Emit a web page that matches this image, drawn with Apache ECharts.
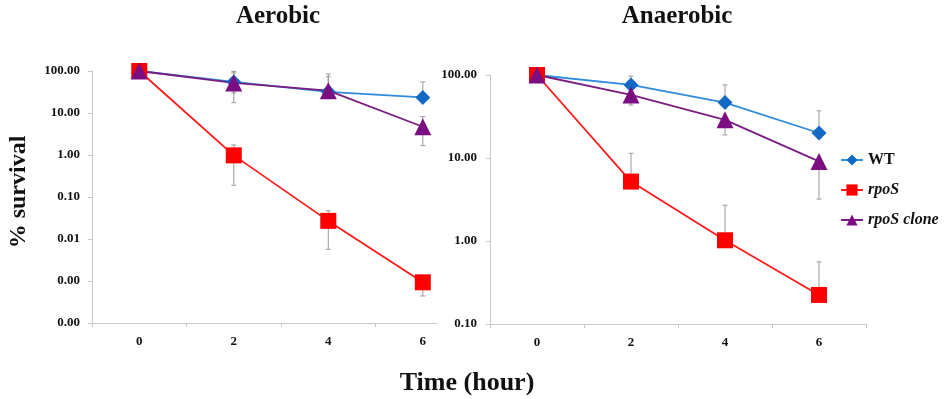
<!DOCTYPE html>
<html>
<head>
<meta charset="utf-8">
<script src="https://cdn.jsdelivr.net/npm/echarts@6/dist/echarts.min.js"></script>
<style>html,body{margin:0;padding:0;background:#fff}#c{width:945px;height:399px}</style>
</head>
<body>
<div id="c"></div>
<script>
// ---- data ----
const hours = [0, 2, 4, 6];
const xTickLabels = [0, 2, 4, 6];
const seriesNames = ['WT', 'rpoS', 'rpoS clone'];

// Aerobic (% survival)
const aerWT = [100, 55, 32, 23.5];
const aerWTLow = [100, 30, 27, 23.5];
const aerWTHigh = [100, 98, 85, 55];
const aerRpoS = [100, 0.98, 0.027, 0.00093];
const aerRpoSLow = [100, 0.19, 0.0057, 0.00044];
const aerRpoSHigh = [100, 1.73, 0.047, 0.0013];
const aerClone = [100, 52, 34, 4.7];
const aerCloneLow = [100, 17.6, 25, 1.67];
const aerCloneHigh = [100, 90, 73, 8.2];

// Anaerobic (% survival)
const anaWT = [100, 76, 46.5, 20];
const anaWTLow = [100, 76, 46.5, 20];
const anaWTHigh = [100, 97, 76, 37];
const anaRpoS = [100, 5.2, 1.02, 0.224];
const anaRpoSLow = [100, 5.2, 1.02, 0.224];
const anaRpoSHigh = [100, 11.4, 2.7, 0.56];
const anaClone = [100, 57.5, 28.8, 9.1];
const anaCloneLow = [100, 43.5, 19, 3.2];
const anaCloneHigh = [100, 57.5, 28.8, 9.1];

// ---- chart ----
const SERIF = 'Liberation Serif, Times New Roman, serif';
const colors = {
  WT: {line: '#2F8BDB', item: '#1469C4', symbol: 'diamond', size: 15},
  rpoS: {line: '#FF1A1A', item: '#FF0000', symbol: 'rect', size: 16},
  'rpoS clone': {line: '#7A1C80', item: '#7B0F82', symbol: 'triangle', size: 17}
};

function pairs(vals) { return hours.map((h, i) => [h, vals[i]]); }
function errData(lo, hi) { return hours.map((h, i) => [h, lo[i], hi[i]]); }

function errRender(params, api) {
  const x = api.value(0), lo = api.value(1), hi = api.value(2);
  const a = api.coord([x, lo]), b = api.coord([x, hi]);
  const w = 2.5;
  const st = {stroke: '#9a9a9a', lineWidth: 1};
  return {type: 'group', children: [
    {type: 'line', shape: {x1: a[0], y1: a[1], x2: b[0], y2: b[1]}, style: st},
    {type: 'line', shape: {x1: a[0] - w, y1: a[1], x2: a[0] + w, y2: a[1]}, style: st},
    {type: 'line', shape: {x1: b[0] - w, y1: b[1], x2: b[0] + w, y2: b[1]}, style: st}
  ]};
}

function lineSeries(name, vals, idx) {
  const c = colors[name];
  return {
    name: name, type: 'line', xAxisIndex: idx, yAxisIndex: idx,
    data: pairs(vals), symbol: c.symbol, symbolSize: c.size,
    lineStyle: {color: c.line, width: 1.8},
    itemStyle: {color: c.item},
    z: 3, animation: false
  };
}
function errSeries(lo, hi, idx) {
  return {
    type: 'custom', xAxisIndex: idx, yAxisIndex: idx,
    data: errData(lo, hi), renderItem: errRender,
    encode: {x: 0, y: [1, 2]}, z: 2, silent: true, animation: false
  };
}

function xAxis(idx, max, ticks) {
  return {
    type: 'value', gridIndex: idx, min: -1, max: max,
    axisLine: {onZero: false, lineStyle: {color: '#c8c8c8', width: 1}},
    axisTick: {show: true, length: 4, lineStyle: {color: '#c8c8c8'}, customValues: ticks},
    axisLabel: {customValues: xTickLabels, margin: 12, color: '#111', fontFamily: SERIF, fontWeight: 'bold', fontSize: 13},
    splitLine: {show: false}
  };
}
function yAxis(idx, min, margin) {
  return {
    type: 'log', logBase: 10, gridIndex: idx, min: min, max: 100,
    axisLine: {show: true, onZero: false, lineStyle: {color: '#c8c8c8', width: 1}},
    axisTick: {show: true, length: 4, lineStyle: {color: '#c8c8c8'}},
    axisLabel: {margin: margin, color: '#111', fontFamily: SERIF, fontWeight: 'bold', fontSize: 13,
      formatter: v => Number(v).toFixed(2)},
    splitLine: {show: false}
  };
}

const chart = echarts.init(document.getElementById('c'), null, {renderer: 'canvas'});
chart.setOption({
  animation: false,
  backgroundColor: '#fff',
  grid: [
    {left: 92, top: 71, width: 345, height: 252},
    {left: 490, top: 75, width: 376, height: 249}
  ],
  xAxis: [xAxis(0, 6.3, [-1, 1, 3, 5]), xAxis(1, 7, [-1, 1, 3, 5, 7])],
  yAxis: [yAxis(0, 0.0001, 12), yAxis(1, 0.1, 13)],
  legend: {
    orient: 'vertical', left: 835, top: 147, itemWidth: 22, itemHeight: 14, itemGap: 14,
    data: seriesNames,
    formatter: n => n === 'WT' ? '{b|' + n + '}' : '{i|' + n + '}',
    textStyle: {fontFamily: SERIF, rich: {
      b: {fontFamily: SERIF, fontWeight: 'bold', fontSize: 16, color: '#111'},
      i: {fontFamily: SERIF, fontWeight: 'bold', fontStyle: 'italic', fontSize: 16, color: '#111'}
    }}
  },
  graphic: [
    {type: 'text', x: 278, y: 17, style: {text: 'Aerobic', font: 'bold 25px ' + SERIF, fill: '#111', textAlign: 'center', textVerticalAlign: 'middle', align: 'center', verticalAlign: 'middle'}},
    {type: 'text', x: 677, y: 17, style: {text: 'Anaerobic', font: 'bold 25px ' + SERIF, fill: '#111', textAlign: 'center', textVerticalAlign: 'middle', align: 'center', verticalAlign: 'middle'}},
    {type: 'text', x: 19, y: 192, rotation: Math.PI / 2, style: {text: '% survival', font: 'bold 24px ' + SERIF, fill: '#111', textAlign: 'center', textVerticalAlign: 'middle', align: 'center', verticalAlign: 'middle'}},
    {type: 'text', x: 467, y: 383, style: {text: 'Time (hour)', font: 'bold 26px ' + SERIF, fill: '#111', textAlign: 'center', textVerticalAlign: 'middle', align: 'center', verticalAlign: 'middle'}}
  ],
  series: [
    errSeries(aerWTLow, aerWTHigh, 0),
    errSeries(aerRpoSLow, aerRpoSHigh, 0),
    errSeries(aerCloneLow, aerCloneHigh, 0),
    errSeries(anaWTLow, anaWTHigh, 1),
    errSeries(anaRpoSLow, anaRpoSHigh, 1),
    errSeries(anaCloneLow, anaCloneHigh, 1),
    lineSeries('WT', aerWT, 0),
    lineSeries('rpoS', aerRpoS, 0),
    lineSeries('rpoS clone', aerClone, 0),
    lineSeries('WT', anaWT, 1),
    lineSeries('rpoS', anaRpoS, 1),
    lineSeries('rpoS clone', anaClone, 1)
  ]
});
</script>
</body>
</html>
